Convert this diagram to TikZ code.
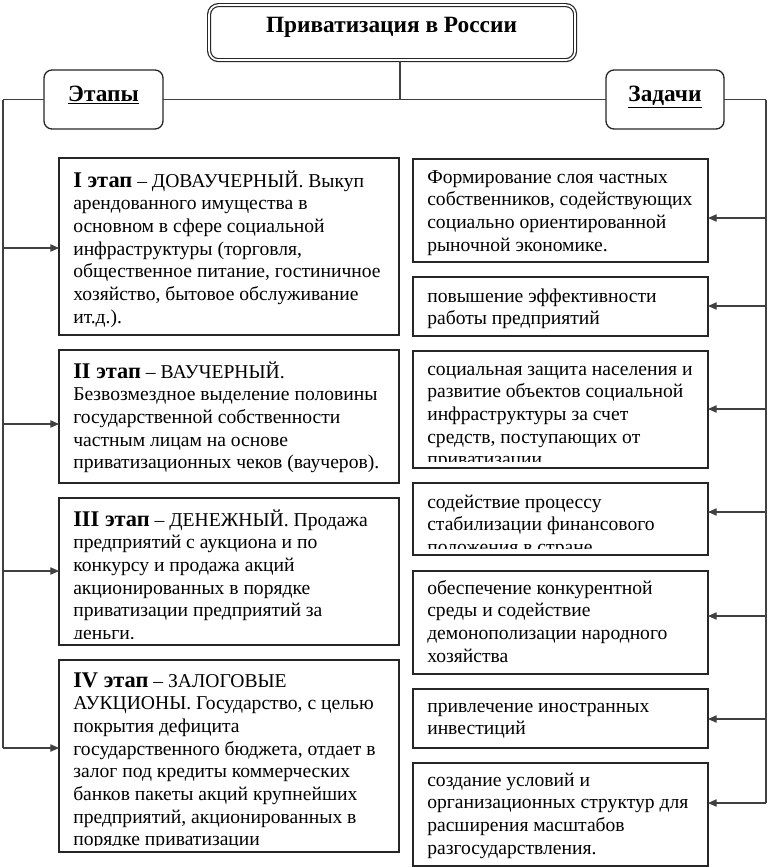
\documentclass[tikz,border=0pt]{standalone}
\usepackage{fontspec}
\setmainfont{Liberation Serif}
\usetikzlibrary{arrows.meta}
\tikzset{
  boxst/.style={draw=black!85, line width=1.1pt, fill=white, inner sep=0pt, outer sep=0pt},
  roundst/.style={draw=black!85, line width=1pt, fill=white, rounded corners=6pt, inner sep=0pt, outer sep=0pt},
  txt/.style={inner sep=0pt, align=left, font=\fontsize{14.7}{17}\selectfont},
  headtxt/.style={font=\fontsize{17.5}{20}\selectfont\bfseries, anchor=base, inner sep=0pt},
  conn/.style={draw=black!75, line width=0.8pt},
  arr/.style={conn, -{Triangle[length=6.5pt,width=5.5pt]}},
}
\newcommand\stagelbl[1]{{\fontsize{16.8}{17}\selectfont\bfseries #1}}
\newcommand\mkbox[8]{%
  \node[boxst, anchor=north west, minimum width={(#4-#2)*0.75pt}, minimum height={(#5-#3)*0.75pt}] (#1) at (#2,#3) {};
  \begin{scope}
    \clip ([shift={(1.5,1.5)}]#1.north west) rectangle ([shift={(-1.5,-7)}]#1.south east);
    \node[txt, anchor=north west] (#1-text) at (#6,#7-18.667) {\rule{0pt}{14pt}#8};
  \end{scope}
}
\begin{document}
\begin{tikzpicture}[x=0.75pt, y=-0.75pt]
\useasboundingbox (0,0) rectangle (768,867);
% title
\node[draw=black!85, double, double distance=1.3pt, line width=0.9pt, rounded corners=7pt,
  minimum width={(574.5-208.5)*0.75pt}, minimum height={(59.5-4.5)*0.75pt}, anchor=north west, inner sep=0pt]
  (title) at (208.5,4.5) {};
\node[headtxt] (title-text) at (391.5,33) {Приватизация в России};
% headers
\node[roundst, anchor=north west, minimum width={(163-44)*0.75pt}, minimum height={(129-70)*0.75pt}] (etapy) at (44,70) {};
\node[headtxt] (etapy-text) at (103.5,101) {\underline{Этапы}};
\node[roundst, anchor=north west, minimum width={(724-606)*0.75pt}, minimum height={(129-70)*0.75pt}] (zadachi) at (606,70) {};
\node[headtxt] (zadachi-text) at (665,101) {\underline{Задачи}};
% left boxes
\mkbox{s1}{59}{158}{399}{335}{73}{187}{\stagelbl{I этап} – ДОВАУЧЕРНЫЙ. Выкуп\\ арендованного имущества в\\ основном в сфере социальной\\ инфраструктуры (торговля,\\ общественное питание, гостиничное\\ хозяйство, бытовое обслуживание\\ ит.д.).}
\mkbox{s2}{59}{350}{399}{483}{73}{378}{\stagelbl{II этап} – ВАУЧЕРНЫЙ.\\ Безвозмездное выделение половины\\ государственной собственности\\ частным лицам на основе\\ приватизационных чеков (ваучеров).}
\mkbox{s3}{59}{498}{399}{645}{73}{526}{\stagelbl{III этап} – ДЕНЕЖНЫЙ. Продажа\\ предприятий с аукциона и по\\ конкурсу и продажа акций\\ акционированных в порядке\\ приватизации предприятий за\\ деньги.}
\mkbox{s4}{59}{660}{399}{852}{73}{687}{\stagelbl{IV этап} – ЗАЛОГОВЫЕ\\ АУКЦИОНЫ. Государство, с целью\\ покрытия дефицита\\ государственного бюджета, отдает в\\ залог под кредиты коммерческих\\ банков пакеты акций крупнейших\\ предприятий, акционированных в\\ порядке приватизации}
% right boxes
\mkbox{t1}{413}{159}{708}{262}{427}{183}{Формирование слоя частных\\ собственников, содействующих\\ социально ориентированной\\ рыночной экономике.}
\mkbox{t2}{413}{277}{708}{336}{427}{302}{повышение эффективности\\ работы предприятий}
\mkbox{t3}{413}{351}{708}{468}{427}{375}{социальная защита населения и\\ развитие объектов социальной\\ инфраструктуры за счет\\ средств, поступающих от\\ приватизации}
\mkbox{t4}{413}{483}{708}{555}{427}{508}{содействие процессу\\ стабилизации финансового\\ положения в стране.}
\mkbox{t5}{413}{571}{708}{674}{427}{594}{обеспечение конкурентной\\ среды и содействие\\ демонополизации народного\\ хозяйства}
\mkbox{t6}{413}{689}{708}{748}{427}{712}{привлечение иностранных\\ инвестиций}
\mkbox{t7}{413}{763}{708}{866}{427}{786}{создание условий и\\ организационных структур для\\ расширения масштабов\\ разгосударствления.}
% connectors
\coordinate (L) at (3,99.5);
\coordinate (R) at (766,99.5);
\coordinate (J) at (400,99.5);
\draw[conn] (title.south -| J) -- (J);
\draw[conn] (L) -- (etapy);
\draw[conn] (etapy) -- (zadachi);
\draw[conn] (zadachi) -- (R);
\draw[conn] (L) -- (L |- 0,748);
\draw[conn] (R) -- (R |- 0,803);
\draw[arr] (L |- 0,248) -- (s1.west |- 0,248);
\draw[arr] (L |- 0,424) -- (s2.west |- 0,424);
\draw[arr] (L |- 0,571) -- (s3.west |- 0,571);
\draw[arr] (L |- 0,748) -- (s4.west |- 0,748);
\draw[arr] (R |- 0,218) -- (t1.east |- 0,218);
\draw[arr] (R |- 0,306) -- (t2.east |- 0,306);
\draw[arr] (R |- 0,409) -- (t3.east |- 0,409);
\draw[arr] (R |- 0,512) -- (t4.east |- 0,512);
\draw[arr] (R |- 0,616) -- (t5.east |- 0,616);
\draw[arr] (R |- 0,719) -- (t6.east |- 0,719);
\draw[arr] (R |- 0,803) -- (t7.east |- 0,803);
\end{tikzpicture}
\end{document}
